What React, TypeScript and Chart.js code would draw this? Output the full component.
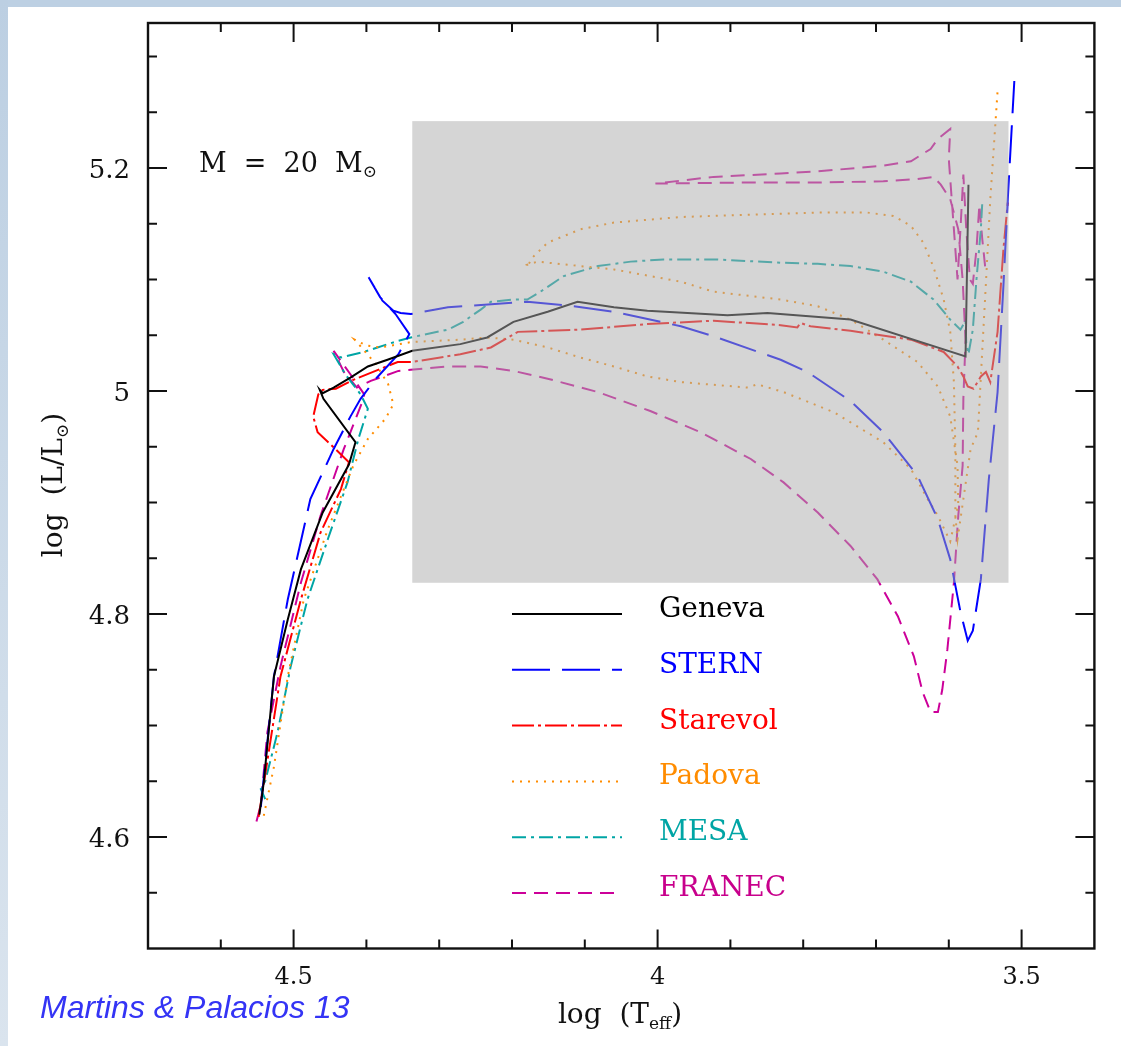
import React, { useEffect, useRef } from 'react';
import { Chart, registerables } from 'chart.js';

Chart.register(...registerables);

// ---------------- data (log Teff, log L/Lsun) ----------------
const genevaLogT = [4.547, 4.541, 4.527, 4.508, 4.490, 4.460, 4.424, 4.415, 4.459, 4.464, 4.460, 4.445, 4.422, 4.398, 4.371, 4.337, 4.271, 4.234, 4.198, 4.151, 4.110, 4.060, 4.014, 3.959, 3.904, 3.849, 3.735, 3.577, 3.573];
const genevaLogL = [4.620, 4.649, 4.744, 4.795, 4.840, 4.891, 4.934, 4.954, 4.993, 5.001, 4.998, 5.003, 5.012, 5.022, 5.028, 5.036, 5.042, 5.048, 5.062, 5.071, 5.080, 5.075, 5.072, 5.070, 5.068, 5.070, 5.064, 5.031, 5.185];

const sternLogT = [4.545, 4.527, 4.508, 4.477, 4.445, 4.422, 4.408, 4.387, 4.356, 4.341, 4.360, 4.381, 4.397, 4.378, 4.363, 4.353, 4.339, 4.288, 4.179, 4.115, 4.060, 3.968, 3.923, 3.831, 3.794, 3.735, 3.690, 3.643, 3.615, 3.598, 3.584, 3.574, 3.567, 3.556, 3.545, 3.533, 3.525, 3.518, 3.510];
const sternLogL = [4.627, 4.744, 4.813, 4.903, 4.948, 4.977, 4.993, 5.011, 5.033, 5.051, 5.069, 5.084, 5.102, 5.081, 5.072, 5.070, 5.069, 5.075, 5.080, 5.076, 5.071, 5.058, 5.049, 5.028, 5.017, 4.991, 4.963, 4.924, 4.885, 4.849, 4.802, 4.776, 4.785, 4.831, 4.921, 4.999, 5.094, 5.184, 5.278];

const starevolLogT = [4.548, 4.518, 4.490, 4.463, 4.435, 4.424, 4.449, 4.467, 4.473, 4.466, 4.460, 4.442, 4.418, 4.357, 4.337, 4.271, 4.229, 4.205, 4.192, 4.106, 4.014, 3.923, 3.831, 3.808, 3.804, 3.790, 3.735, 3.652, 3.607, 3.588, 3.580, 3.574, 3.566, 3.556, 3.549, 3.543, 3.533, 3.525, 3.519];
const starevolLogL = [4.618, 4.744, 4.813, 4.873, 4.912, 4.936, 4.952, 4.963, 4.977, 4.997, 5.001, 5.002, 5.010, 5.026, 5.026, 5.033, 5.039, 5.048, 5.053, 5.055, 5.060, 5.063, 5.059, 5.057, 5.061, 5.058, 5.054, 5.046, 5.035, 5.022, 5.013, 5.004, 5.002, 5.013, 5.017, 5.008, 5.053, 5.127, 5.169];

const padovaLogT = [4.541, 4.527, 4.508, 4.486, 4.453, 4.418, 4.398, 4.374, 4.363, 4.370, 4.387, 4.408, 4.416, 4.401, 4.381, 4.337, 4.271, 4.234, 4.198, 4.151, 4.106, 4.060, 4.014, 3.968, 3.876, 3.863, 3.827, 3.758, 3.690, 3.652, 3.629, 3.615, 3.598, 3.587, 3.588, 3.598, 3.615, 3.643, 3.690, 3.735, 3.780, 3.831, 3.923, 3.968, 4.060, 4.106, 4.165, 4.180, 4.179, 4.173, 4.151, 4.106, 4.060, 3.968, 3.876, 3.780, 3.712, 3.676, 3.652, 3.635, 3.621, 3.607, 3.598, 3.593, 3.591, 3.591, 3.588, 3.580, 3.570, 3.560, 3.554, 3.549, 3.543, 3.533];
const padovaLogL = [4.619, 4.663, 4.744, 4.813, 4.876, 4.933, 4.957, 4.975, 4.988, 5.006, 5.024, 5.040, 5.046, 5.041, 5.039, 5.044, 5.046, 5.048, 5.046, 5.039, 5.030, 5.022, 5.013, 5.008, 5.003, 5.006, 4.999, 4.981, 4.954, 4.930, 4.903, 4.888, 4.865, 4.898, 4.933, 4.977, 5.004, 5.026, 5.046, 5.064, 5.076, 5.082, 5.089, 5.098, 5.109, 5.112, 5.116, 5.113, 5.111, 5.119, 5.133, 5.145, 5.151, 5.156, 5.158, 5.160, 5.160, 5.157, 5.148, 5.133, 5.111, 5.082, 5.053, 5.008, 4.948, 4.888, 4.867, 4.903, 4.948, 4.963, 5.037, 5.097, 5.172, 5.269];

const mesaLogT = [4.539, 4.545, 4.541, 4.522, 4.504, 4.481, 4.453, 4.426, 4.411, 4.398, 4.408, 4.429, 4.445, 4.435, 4.404, 4.356, 4.339, 4.288, 4.267, 4.243, 4.229, 4.198, 4.179, 4.161, 4.129, 4.082, 4.037, 3.992, 3.923, 3.831, 3.780, 3.735, 3.690, 3.652, 3.621, 3.598, 3.584, 3.577, 3.576, 3.573, 3.567, 3.562, 3.556, 3.554];
const mesaLogL = [4.634, 4.643, 4.645, 4.694, 4.753, 4.813, 4.867, 4.918, 4.957, 4.984, 4.997, 5.015, 5.033, 5.030, 5.035, 5.045, 5.048, 5.055, 5.062, 5.073, 5.080, 5.082, 5.082, 5.089, 5.103, 5.112, 5.116, 5.118, 5.118, 5.115, 5.114, 5.112, 5.107, 5.098, 5.082, 5.064, 5.055, 5.063, 5.042, 5.033, 5.055, 5.100, 5.145, 5.169];

const franecLogT = [4.551, 4.545, 4.536, 4.518, 4.490, 4.463, 4.431, 4.404, 4.403, 4.422, 4.445, 4.431, 4.413, 4.394, 4.356, 4.339, 4.288, 4.243, 4.198, 4.151, 4.082, 4.010, 3.941, 3.872, 3.827, 3.780, 3.735, 3.698, 3.670, 3.648, 3.636, 3.625, 3.615, 3.609, 3.602, 3.593, 3.587, 3.581, 3.580, 3.577, 3.581, 3.587, 3.598, 3.611, 3.621, 3.643, 3.690, 3.780, 3.872, 4.003, 3.923, 3.831, 3.780, 3.690, 3.652, 3.625, 3.615, 3.598, 3.600, 3.594, 3.588, 3.584, 3.580, 3.576, 3.571, 3.567, 3.562, 3.558, 3.554, 3.549];
const franecLogL = [4.614, 4.629, 4.694, 4.753, 4.828, 4.888, 4.948, 4.993, 4.997, 5.015, 5.036, 5.017, 5.003, 5.009, 5.018, 5.019, 5.022, 5.022, 5.018, 5.011, 4.999, 4.982, 4.963, 4.939, 4.918, 4.891, 4.861, 4.831, 4.798, 4.762, 4.730, 4.712, 4.712, 4.732, 4.768, 4.828, 4.888, 4.933, 4.993, 5.046, 5.100, 5.145, 5.172, 5.185, 5.192, 5.190, 5.188, 5.187, 5.187, 5.186, 5.192, 5.195, 5.197, 5.202, 5.206, 5.217, 5.226, 5.235, 5.208, 5.154, 5.100, 5.145, 5.194, 5.145, 5.100, 5.096, 5.127, 5.167, 5.136, 5.105];

const seriesNames = ['Geneva', 'STERN', 'Starevol', 'Padova', 'MESA', 'FRANEC'];

// shaded region (data units)
const shadeLogT = [3.518, 4.337];
const shadeLogL = [4.828, 5.242];

// axes
const xRange = [3.4, 4.7];
const yRange = [4.5, 5.33];
const xMajorTicks = [4.5, 4.0, 3.5];
const xTickLabels = ['4.5', '4', '3.5'];
const yMajorTicks = [4.6, 4.8, 5.0, 5.2];
const yTickLabels = ['4.6', '4.8', '5', '5.2'];

// ---------------- styles ----------------
const seriesColors = ['#000000', '#0000ff', '#ff0000', '#ff8c00', '#00a5a5', '#cc0099'];
const textColors = ['#000000', '#0000ff', '#ff0000', '#ff8c00', '#00a5a5', '#c8008c'];
const seriesDashes = [[], [38, 12], [22, 4, 3, 4], [2, 6], [14, 5, 3, 5], [14, 8]];

const SERIF = '"DejaVu Serif"';

type Part = { text: string; size: number; dy?: number };

function drawParts(ctx: CanvasRenderingContext2D, parts: Part[], x: number, y: number, align: 'left' | 'center') {
  let total = 0;
  const widths = parts.map((p) => {
    ctx.font = `${p.size}px ${SERIF}`;
    const w = ctx.measureText(p.text).width;
    total += w;
    return w;
  });
  let cx = align === 'center' ? x - total / 2 : x;
  ctx.textAlign = 'left';
  ctx.textBaseline = 'alphabetic';
  parts.forEach((p, i) => {
    ctx.font = `${p.size}px ${SERIF}`;
    ctx.fillText(p.text, cx, y + (p.dy || 0));
    cx += widths[i];
  });
}

const framePlugin = {
  id: 'hrFrame',
  afterDatasetsDraw(chart: any) {
    const { ctx, chartArea, scales } = chart;
    const xs = scales.x;
    const ys = scales.y;
    const { left, right, top, bottom } = chartArea;
    ctx.save();

    // translucent grey box over the tracks
    const bx0 = xs.getPixelForValue(shadeLogT[1]);
    const bx1 = xs.getPixelForValue(shadeLogT[0]);
    const by0 = ys.getPixelForValue(shadeLogL[1]);
    const by1 = ys.getPixelForValue(shadeLogL[0]);
    ctx.fillStyle = 'rgba(172,172,172,0.5)';
    ctx.fillRect(bx0, by0, bx1 - bx0, by1 - by0);

    // frame
    ctx.setLineDash([]);
    ctx.strokeStyle = '#111';
    ctx.lineWidth = 2.4;
    ctx.strokeRect(left, top, right - left, bottom - top);

    // x ticks (every 0.1, major every 0.5)
    ctx.lineWidth = 2;
    for (let k = 35; k <= 46; k++) {
      const v = k / 10;
      const px = xs.getPixelForValue(v);
      const len = k % 5 === 0 ? 19 : 9;
      ctx.beginPath();
      ctx.moveTo(px, bottom);
      ctx.lineTo(px, bottom - len);
      ctx.moveTo(px, top);
      ctx.lineTo(px, top + len);
      ctx.stroke();
    }
    // y ticks (every 0.05, major every 0.2)
    for (let k = 91; k <= 106; k++) {
      const v = k / 20;
      const py = ys.getPixelForValue(v);
      const len = k % 4 === 0 ? 19 : 9;
      ctx.beginPath();
      ctx.moveTo(left, py);
      ctx.lineTo(left + len, py);
      ctx.moveTo(right, py);
      ctx.lineTo(right - len, py);
      ctx.stroke();
    }

    // tick labels
    ctx.fillStyle = '#111';
    ctx.font = `24px ${SERIF}`;
    ctx.textAlign = 'center';
    ctx.textBaseline = 'alphabetic';
    xMajorTicks.forEach((v, i) => {
      ctx.fillText(xTickLabels[i], xs.getPixelForValue(v), 984);
    });
    ctx.font = `26px ${SERIF}`;
    ctx.textAlign = 'right';
    yMajorTicks.forEach((v, i) => {
      ctx.fillText(yTickLabels[i], 130, ys.getPixelForValue(v) + 10);
    });

    // axis titles
    ctx.fillStyle = '#111';
    drawParts(ctx, [{ text: 'log  (T', size: 28 }, { text: 'eff', size: 17, dy: 6 }, { text: ')', size: 28 }], 620, 1023, 'center');
    ctx.save();
    ctx.translate(62, 485);
    ctx.rotate(-Math.PI / 2);
    drawParts(ctx, [{ text: 'log  (L/L', size: 28 }, { text: '\u2299', size: 17, dy: 6 }, { text: ')', size: 28 }], 0, 0, 'center');
    ctx.restore();

    // annotation
    drawParts(ctx, [{ text: 'M  =  20  M', size: 27 }, { text: '\u2299', size: 17, dy: 5 }], 199, 172, 'left');

    // legend
    seriesNames.forEach((name, i) => {
      const ly = 614 + i * 55.8;
      ctx.strokeStyle = seriesColors[i];
      ctx.lineWidth = 2;
      ctx.setLineDash(seriesDashes[i]);
      ctx.beginPath();
      ctx.moveTo(512, ly);
      ctx.lineTo(622, ly);
      ctx.stroke();
      ctx.setLineDash([]);
      ctx.fillStyle = textColors[i];
      ctx.font = `28px ${SERIF}`;
      ctx.textAlign = 'left';
      ctx.fillText(name, 659, ly + 3);
    });

    // credit
    ctx.fillStyle = '#3434f5';
    ctx.font = 'italic 32px "Liberation Sans"';
    ctx.textAlign = 'left';
    ctx.fillText('Martins & Palacios 13', 40, 1018);

    ctx.restore();
  },
};

const toPoints = (t: number[], l: number[]) => t.map((v, i) => ({ x: v, y: l[i] }));

export default function App() {
  const canvasRef = useRef<HTMLCanvasElement | null>(null);

  useEffect(() => {
    if (!canvasRef.current) return;
    const tracks = [
      toPoints(genevaLogT, genevaLogL),
      toPoints(sternLogT, sternLogL),
      toPoints(starevolLogT, starevolLogL),
      toPoints(padovaLogT, padovaLogL),
      toPoints(mesaLogT, mesaLogL),
      toPoints(franecLogT, franecLogL),
    ];
    const chart = new Chart(canvasRef.current, {
      type: 'scatter',
      data: {
        datasets: tracks.map((pts, i) => ({
          label: seriesNames[i],
          data: pts,
          showLine: true,
          borderColor: seriesColors[i],
          backgroundColor: seriesColors[i],
          borderWidth: 2,
          borderDash: seriesDashes[i],
          pointRadius: 0,
          pointHoverRadius: 0,
          fill: false,
          tension: 0,
        })),
      },
      options: {
        responsive: false,
        animation: false,
        events: [],
        layout: { padding: { left: 148, top: 23, right: 26.6, bottom: 97.5 } },
        plugins: { legend: { display: false }, tooltip: { enabled: false }, title: { display: false } },
        scales: {
          x: { type: 'linear', min: xRange[0], max: xRange[1], reverse: true, display: false },
          y: { type: 'linear', min: yRange[0], max: yRange[1], display: false },
        },
      },
      plugins: [framePlugin],
    } as any);
    return () => chart.destroy();
  }, []);

  return (
    <div style={{ position: 'fixed', left: 0, top: 0, width: 1121, height: 1046, background: '#ffffff', overflow: 'hidden' }}>
      <div style={{ position: 'absolute', left: 0, top: 0, width: 1121, height: 7, background: '#bdd0e3' }} />
      <div style={{ position: 'absolute', left: 0, top: 0, width: 8, height: 1046, background: 'linear-gradient(#bccfe2, #dae4ee)' }} />
      <canvas ref={canvasRef} width={1121} height={1046} style={{ position: 'absolute', left: 0, top: 0, width: 1121, height: 1046 }} />
    </div>
  );
}
